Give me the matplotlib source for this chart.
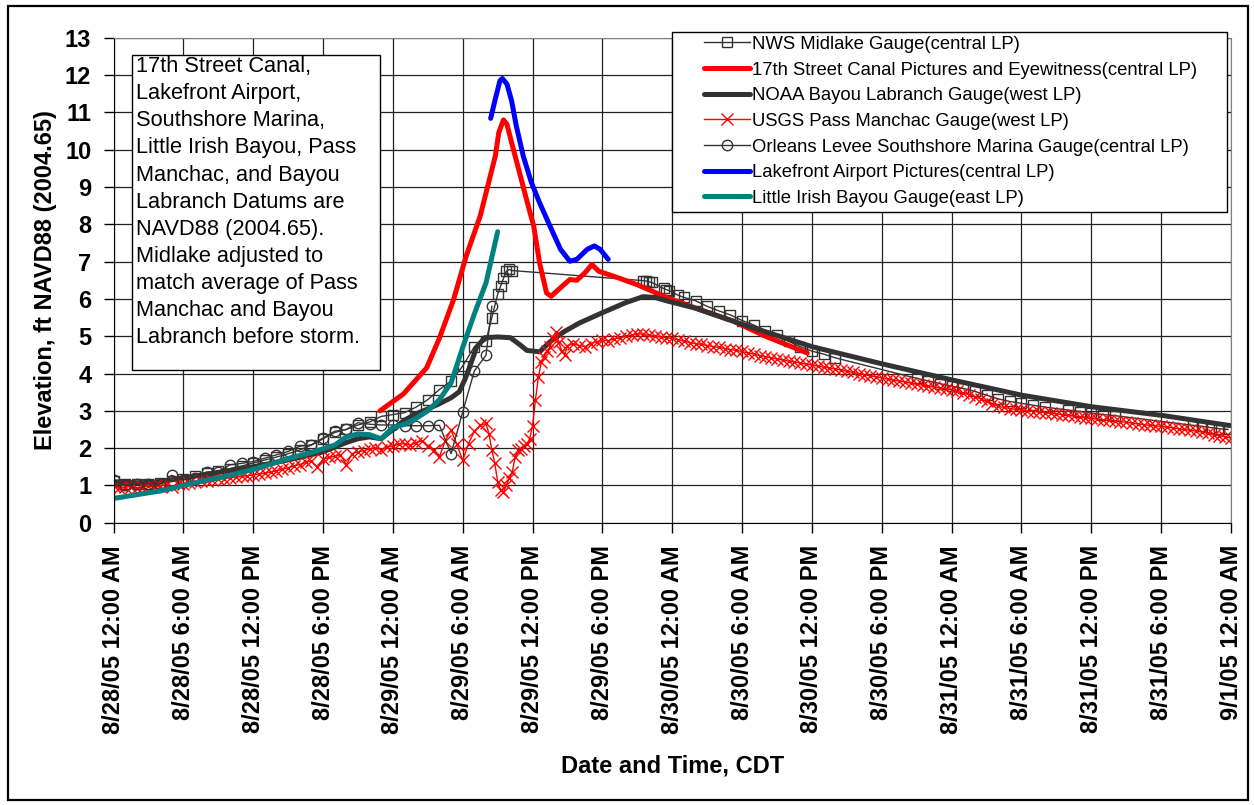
import datetime as dt
import numpy as np
import matplotlib
matplotlib.use("Agg")
import matplotlib.pyplot as plt
from matplotlib.patches import Rectangle

plt.rcParams['font.family'] = ['Liberation Sans', 'DejaVu Sans']

# ---- data (hours after 8/28/05 12:00 AM CDT, elevation ft NAVD88) ----
nws_h = list(range(0, 33)) + [32.5, 33, 33.25, 33.5, 33.75, 34, 34.25,
        45.5, 45.75, 46, 46.25, 47.25, 47.5, 47.75, 48.5, 49, 50, 51, 52, 53, 54, 55,
        56, 57, 58, 59, 60, 61, 62,
        69, 70, 71, 72, 73, 74, 75, 76, 77, 78, 79, 80, 82, 83, 84, 85, 86,
        92.75, 93.5, 94.25, 95, 95.75]
nws_v = [1.12, 1.05, 1.05, 1.05, 1.07, 1.12, 1.18, 1.25, 1.32, 1.38, 1.45, 1.52, 1.6,
         1.68, 1.76, 1.85, 1.95, 2.08, 2.25, 2.42, 2.5, 2.62, 2.7, 2.85, 2.9, 2.95,
         3.1, 3.3, 3.57, 3.8, 4.2, 4.72, 4.88,
         5.5, 6.12, 6.34, 6.55, 6.74, 6.79, 6.76,
         6.49, 6.48, 6.46, 6.44, 6.28, 6.25, 6.22, 6.1, 6.04, 5.95, 5.8, 5.68, 5.57,
         5.42, 5.3, 5.15, 5.03, 4.86, 4.72, 4.6, 4.52, 4.42,
         3.87, 3.8, 3.73, 3.66, 3.6, 3.52, 3.42, 3.32, 3.25, 3.2, 3.15, 3.1,
         3.02, 2.98, 2.94, 2.9, 2.87,
         2.61, 2.58, 2.55, 2.52, 2.5]

s17_h = [22.9, 24.9, 26.9, 28.0, 29.2, 30.3, 31.5, 32.3, 32.8, 33.1, 33.5, 33.8,
         34.2, 34.8, 35.4, 36.1, 36.6, 37.2, 37.6, 38.4, 39.2, 39.8, 40.5, 41.1,
         41.7, 43.5, 45.0, 47.5, 50.3, 53.2, 56.0, 59.6]
s17_v = [3.0, 3.45, 4.15, 4.95, 5.97, 7.15, 8.22, 9.21, 9.83, 10.46, 10.8, 10.68,
         10.19, 9.48, 8.76, 7.95, 6.97, 6.16, 6.07, 6.30, 6.52, 6.5, 6.7, 6.92,
         6.74, 6.55, 6.38, 6.04, 5.72, 5.41, 5.0, 4.55]

noaa_h = [0, 2, 4, 6, 8, 10, 12, 14, 16, 18, 20, 21, 22, 23, 24, 25, 26, 27, 28,
          29, 29.7, 30.2, 30.6, 31.2, 31.9, 33, 34.1, 35, 35.5, 36.6, 37.5, 38.7,
          40, 42, 44, 45.5, 46.5, 47.5, 50, 54, 60, 66, 72, 78, 84, 90, 96]
noaa_v = [1.1, 1.07, 1.1, 1.2, 1.3, 1.4, 1.5, 1.62, 1.75, 1.9, 2.15, 2.25, 2.3,
          2.25, 2.5, 2.75, 2.92, 3.05, 3.19, 3.35, 3.51, 3.85, 4.18, 4.71, 4.96,
          4.98, 4.96, 4.75, 4.62, 4.58, 4.85, 5.12, 5.35, 5.63, 5.9, 6.06, 6.04,
          5.95, 5.75, 5.32, 4.72, 4.26, 3.83, 3.42, 3.11, 2.88, 2.6]

usgs_a = [0.98, 0.92, 0.95, 0.97, 0.93, 0.96, 0.98, 0.95, 0.99, 1.01, 0.97, 1.03,
          1.05, 1.07, 1.09, 1.11, 1.12, 1.15, 1.17, 1.18, 1.20, 1.22, 1.24, 1.26,
          1.28, 1.30, 1.33, 1.36, 1.39, 1.43, 1.47, 1.52, 1.56, 1.62, 1.66, 1.48,
          1.70, 1.75, 1.78, 1.82, 1.55, 1.85, 1.90, 1.93, 1.98, 2.00, 1.96, 2.02,
          2.06, 2.10, 2.12, 2.08, 2.15, 2.20, 2.05, 1.95, 1.76, 2.20, 2.48, 2.10,
          1.67, 2.12, 2.45, 2.61]
usgs_b = [2.66, 2.39, 1.95, 1.6, 1.1, 0.87, 0.82, 1.0, 1.2, 1.35, 1.75, 1.95,
          1.98, 2.05, 2.1, 2.25, 2.6, 3.3, 3.9, 4.3, 4.45, 4.6, 4.72, 4.95, 5.12,
          4.85, 4.6, 4.5, 4.75]
usgs_c = [4.80, 4.75, 4.72, 4.80, 4.85, 4.89, 4.88, 4.93, 4.95, 5.00, 5.02, 5.07,
          5.05, 5.02, 5.00, 4.98, 4.96, 4.94, 4.90, 4.87, 4.83, 4.80, 4.78, 4.75,
          4.72, 4.70, 4.67, 4.64, 4.62, 4.59, 4.55, 4.52, 4.48, 4.45, 4.42, 4.39,
          4.36, 4.33, 4.31, 4.28, 4.25, 4.23, 4.20, 4.17, 4.15, 4.12, 4.09, 4.06,
          4.03, 4.00, 3.97, 3.94, 3.91, 3.88, 3.85, 3.82, 3.80, 3.77, 3.74, 3.71,
          3.69, 3.66, 3.64, 3.61, 3.59, 3.56, 3.52, 3.48, 3.43, 3.38, 3.32, 3.25,
          3.18, 3.12, 3.09, 3.06, 3.04, 3.02, 3.00, 2.98, 2.97, 2.95, 2.93, 2.92,
          2.90, 2.88, 2.86, 2.84, 2.82, 2.80, 2.78, 2.76, 2.75, 2.73, 2.71, 2.69,
          2.67, 2.65, 2.63, 2.61, 2.60, 2.58, 2.56, 2.54, 2.52, 2.50, 2.48, 2.46,
          2.43, 2.40, 2.36, 2.33, 2.30, 2.27]
usgs_h = np.concatenate([np.arange(0, 32, 0.5), np.arange(32, 39.01, 0.25),
                         np.arange(39.5, 96.01, 0.5)])
usgs_v = usgs_a + usgs_b + usgs_c

orl_h = list(range(0, 33)) + [32.5]
orl_v = [1.14, 1.0, 1.05, 1.05, 1.03, 1.27, 1.15, 1.21, 1.36, 1.36, 1.55, 1.59,
         1.64, 1.73, 1.82, 1.91, 2.05, 2.09, 2.27, 2.45, 2.5, 2.68, 2.64, 2.62,
         2.62, 2.6, 2.6, 2.6, 2.61, 1.85, 2.97, 4.07, 4.49, 5.8]

lf_h = [32.4, 32.8, 33.2, 33.4, 33.8, 34.2, 34.6, 35.2, 35.9, 36.6, 37.5, 38.4,
        39.2, 39.8, 40.7, 41.3, 41.8, 42.5]
lf_v = [10.84, 11.36, 11.85, 11.91, 11.76, 11.31, 10.64, 9.83, 9.12, 8.58, 7.95,
        7.33, 7.01, 7.06, 7.33, 7.42, 7.33, 7.06]

ib_h = list(range(0, 34))
ib_v = [0.65, 0.7, 0.75, 0.8, 0.85, 0.92, 1.0, 1.07, 1.14, 1.2, 1.27, 1.35, 1.43,
        1.52, 1.62, 1.72, 1.8, 1.88, 1.98, 2.08, 2.3, 2.38, 2.36, 2.25, 2.55, 2.64,
        2.8, 3.0, 3.3, 3.75, 4.7, 5.6, 6.43, 7.8]

start = dt.datetime(2005, 8, 28, 0, 0)
tick_hours = list(range(0, 97, 6))


def fmt(d):
    h12 = d.hour % 12 or 12
    ampm = 'AM' if d.hour < 12 else 'PM'
    return f"{d.month}/{d.day}/{d:%y} {h12}:{d:%M} {ampm}"


tick_labels = [fmt(start + dt.timedelta(hours=h)) for h in tick_hours]

note = ("17th Street Canal,\nLakefront Airport,\nSouthshore Marina,\n"
        "Little Irish Bayou, Pass\nManchac, and Bayou\nLabranch Datums are\n"
        "NAVD88 (2004.65).\nMidlake adjusted to\nmatch average of Pass\n"
        "Manchac and Bayou\nLabranch before storm.")

# ---- figure ----
W, H = 1254, 805
fig = plt.figure(figsize=(W / 100, H / 100), dpi=100)
ax = fig.add_axes([113.5 / W, 1 - 522.7 / H, 1117.5 / W, 484.9 / H])

dark = '#333333'
ax.plot(nws_h, nws_v, color=dark, lw=1, marker='s', ms=6.5, mfc='none', mew=1,
        label='NWS Midlake Gauge(central LP)')
ax.plot(s17_h, s17_v, color='red', lw=3.6, solid_capstyle='round',
        label='17th Street Canal Pictures and Eyewitness(central LP)')
ax.plot(noaa_h, noaa_v, color=dark, lw=3.6, solid_capstyle='round',
        label='NOAA Bayou Labranch Gauge(west LP)')
ax.plot(usgs_h, usgs_v, color='red', lw=1, marker='x', ms=8, mew=1,
        label='USGS Pass Manchac Gauge(west LP)')
ax.plot(orl_h, orl_v, color=dark, lw=1, marker='o', ms=7.5, mfc='none', mew=1,
        label='Orleans Levee Southshore Marina Gauge(central LP)')
ax.plot(lf_h, lf_v, color='#0000ff', lw=3.6, solid_capstyle='round',
        label='Lakefront Airport Pictures(central LP)')
ax.plot(ib_h, ib_v, color='#008080', lw=3.6, solid_capstyle='round',
        label='Little Irish Bayou Gauge(east LP)')

ax.set_xlim(0, 96)
ax.set_ylim(0, 13)
ax.set_xticks(tick_hours)
ax.set_xticklabels(tick_labels, rotation=90, fontsize=17, fontweight='bold')
ax.set_yticks(range(0, 14))
ax.set_yticklabels([str(i) for i in range(14)], fontsize=17, fontweight='bold')
ax.tick_params(axis='both', direction='out', length=7, width=1, color='black')
ax.tick_params(axis='x', pad=9)
ax.tick_params(axis='y', pad=9)
ax.grid(True, color='#222222', lw=0.9)
ax.set_axisbelow(True)
for s in ['top', 'right']:
    ax.spines[s].set_color('#808080')
for s in ['left', 'bottom']:
    ax.spines[s].set_color('black')

ax.set_xlabel('Date and Time, CDT', fontsize=17, fontweight='bold', labelpad=15)
ax.set_ylabel('Elevation, ft NAVD88 (2004.65)', fontsize=17, fontweight='bold',
              labelpad=6)

# note box
ax.add_patch(Rectangle((0.0163, 0.315), 0.2222, 0.6495, transform=ax.transAxes,
                       facecolor='white', edgecolor='black', lw=1, zorder=10))
ax.text(0.0205, 0.962, note, transform=ax.transAxes, fontsize=15.7, va='top',
        ha='left', linespacing=1.38, zorder=11)

# legend box
ax.add_patch(Rectangle((672 / W, 1 - 212 / H), 555 / W, 180 / H,
                       transform=fig.transFigure, facecolor='white',
                       edgecolor='black', lw=1, zorder=10, clip_on=False))
leg = ax.legend(loc='upper left', bbox_to_anchor=(702 / W, 1 - 34 / H),
                bbox_transform=fig.transFigure, frameon=False, fontsize=13.3,
                borderpad=0.1, borderaxespad=0, labelspacing=0.47,
                handlelength=2.5, handletextpad=0.1)
leg.set_zorder(20)

# outer border
fig.patches.append(Rectangle((8 / W, 5 / H), 1240 / W, 794 / H,
                             transform=fig.transFigure, fill=False,
                             edgecolor='black', lw=1.6))

fig.savefig('out.png', dpi=100)
